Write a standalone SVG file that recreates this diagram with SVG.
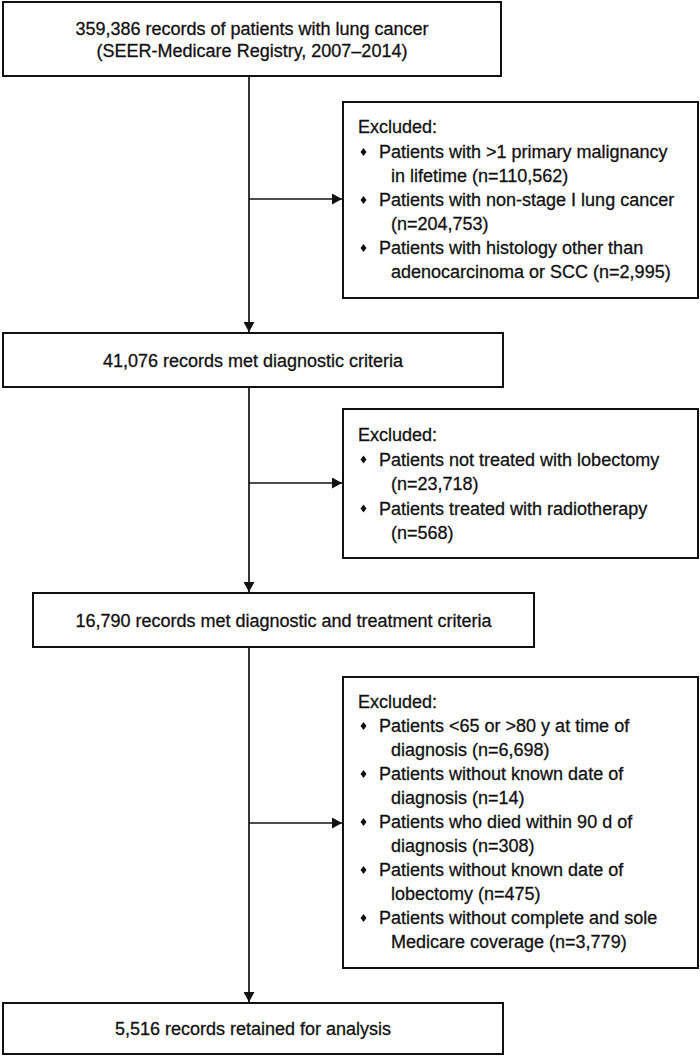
<svg xmlns="http://www.w3.org/2000/svg" width="700" height="1056" viewBox="0 0 700 1056">
<style>
.box{fill:#fff;stroke:#111;stroke-width:2}
.t{font-family:"Liberation Sans",Arial,sans-serif;font-size:18px;fill:#111;stroke:#111;stroke-width:0.3}
.c{text-anchor:middle}
.ln{fill:none;stroke:#111;stroke-width:1.7}
.bul{fill:#111}
</style>
<defs>
<marker id="ah" markerUnits="userSpaceOnUse" markerWidth="11" markerHeight="11" refX="10" refY="5.5" orient="auto">
<path d="M0,0 L10,5.5 L0,11 z" fill="#111"/>
</marker>
<symbol id="dia" overflow="visible"><polygon points="0,-4 3,0 0,4 -3,0" class="bul"/></symbol>
</defs>
<rect width="700" height="1056" fill="#fff"/>
<g id="connectors">
<line class="ln" x1="249" y1="76" x2="249" y2="332" marker-end="url(#ah)"/>
<line class="ln" x1="249" y1="199" x2="342" y2="199" marker-end="url(#ah)"/>
<line class="ln" x1="249" y1="387" x2="249" y2="592" marker-end="url(#ah)"/>
<line class="ln" x1="249" y1="483" x2="342" y2="483" marker-end="url(#ah)"/>
<line class="ln" x1="249" y1="647" x2="249" y2="1002" marker-end="url(#ah)"/>
<line class="ln" x1="249" y1="823" x2="342" y2="823" marker-end="url(#ah)"/>
</g>
<g id="n1">
<rect class="box" x="3" y="2" width="498" height="74"/>
<text class="t c" x="252" y="35">359,386 records of patients with lung cancer</text>
<text class="t c" x="252" y="57">(SEER-Medicare Registry, 2007–2014)</text>
</g>
<g id="ex1">
<rect class="box" x="343" y="102" width="355" height="196"/>
<text class="t" x="358" y="133">Excluded:</text>
<use href="#dia" x="363.5" y="152"/>
<text class="t" x="379" y="158">Patients with &gt;1 primary malignancy</text>
<text class="t" x="391" y="182">in lifetime (n=110,562)</text>
<use href="#dia" x="363.5" y="200"/>
<text class="t" x="379" y="206">Patients with non-stage I lung cancer</text>
<text class="t" x="391" y="230">(n=204,753)</text>
<use href="#dia" x="363.5" y="248"/>
<text class="t" x="379" y="254">Patients with histology other than</text>
<text class="t" x="391" y="278">adenocarcinoma or SCC (n=2,995)</text>
</g>
<g id="n2">
<rect class="box" x="3" y="333" width="500" height="54"/>
<text class="t c" x="253" y="366.5">41,076 records met diagnostic criteria</text>
</g>
<g id="ex2">
<rect class="box" x="343" y="409" width="355" height="149"/>
<text class="t" x="358" y="441">Excluded:</text>
<use href="#dia" x="363.5" y="459.5"/>
<text class="t" x="379" y="465.5">Patients not treated with lobectomy</text>
<text class="t" x="391" y="490">(n=23,718)</text>
<use href="#dia" x="363.5" y="508.5"/>
<text class="t" x="379" y="514.5">Patients treated with radiotherapy</text>
<text class="t" x="391" y="539">(n=568)</text>
</g>
<g id="n3">
<rect class="box" x="33" y="593" width="501" height="54"/>
<text class="t c" x="283.5" y="626.5">16,790 records met diagnostic and treatment criteria</text>
</g>
<g id="ex3">
<rect class="box" x="343" y="677" width="355" height="291"/>
<text class="t" x="358" y="708">Excluded:</text>
<use href="#dia" x="363.5" y="726"/>
<text class="t" x="379" y="732">Patients &lt;65 or &gt;80 y at time of</text>
<text class="t" x="391" y="756">diagnosis (n=6,698)</text>
<use href="#dia" x="363.5" y="774"/>
<text class="t" x="379" y="780">Patients without known date of</text>
<text class="t" x="391" y="804">diagnosis (n=14)</text>
<use href="#dia" x="363.5" y="822"/>
<text class="t" x="379" y="828">Patients who died within 90 d of</text>
<text class="t" x="391" y="852">diagnosis (n=308)</text>
<use href="#dia" x="363.5" y="870"/>
<text class="t" x="379" y="876">Patients without known date of</text>
<text class="t" x="391" y="900">lobectomy (n=475)</text>
<use href="#dia" x="363.5" y="918"/>
<text class="t" x="379" y="924">Patients without complete and sole</text>
<text class="t" x="391" y="948">Medicare coverage (n=3,779)</text>
</g>
<g id="n4">
<rect class="box" x="3" y="1003" width="500" height="51"/>
<text class="t c" x="253" y="1035">5,516 records retained for analysis</text>
</g>
</svg>
